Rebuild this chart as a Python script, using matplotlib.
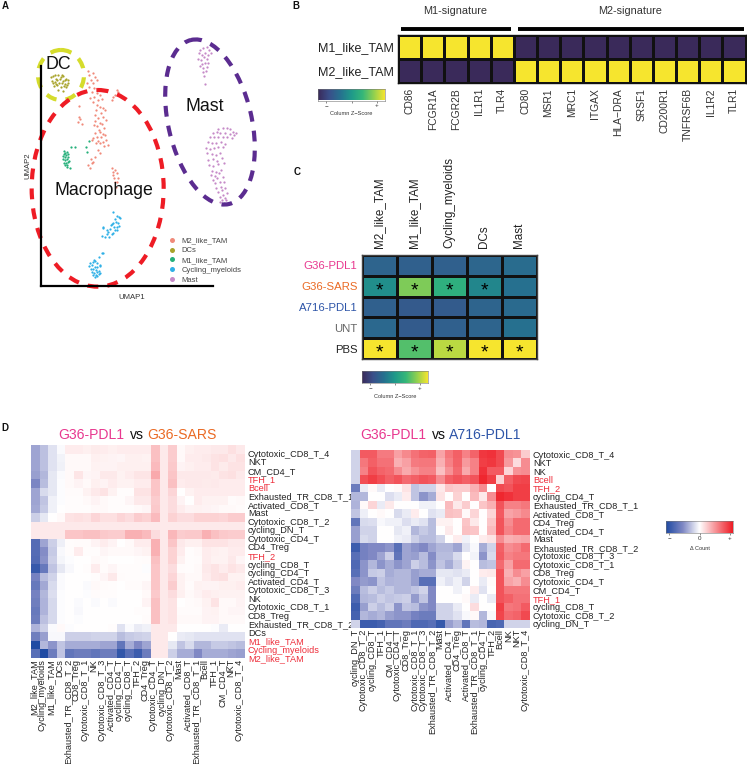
import numpy as np
import matplotlib
matplotlib.use("Agg")
import matplotlib.pyplot as plt
from matplotlib.colors import LinearSegmentedColormap
from matplotlib.lines import Line2D
from matplotlib.patches import Ellipse

plt.rcParams['font.family'] = ['Liberation Sans', 'DejaVu Sans']
W, H = 747, 764
fig = plt.figure(figsize=(W/100, H/100), dpi=100, facecolor='white')

def axpx(x0, y0, x1, y1):
    return fig.add_axes([x0/W, 1-y1/H, (x1-x0)/W, (y1-y0)/H])

def figtext(x, y, s, **k):
    return fig.text(x/W, 1-y/H, s, **k)

# ---------- Panel A data (UMAP, in read-off units) ----------
m2_x = [265,268,280,285,272,262,278,290,268,283,275,290,283,270,300,295,305,278,290,310,288,300,315,285,302,
        295,310,285,300,318,282,292,305,313,296,285,300,310,290,303,316,280,295,308,318,325,300,312,288,276,
        340,350,355,335,345,237,240,235,245,238,295,285,275,270,280,265,300,272,345,340,350,355,345,338,352,342,348,336]
m2_y = [212,225,218,230,240,250,248,240,262,265,275,280,290,295,285,300,298,305,315,325,330,322,330,345,340,
        355,352,362,368,360,375,378,372,385,390,400,395,402,410,412,405,415,422,425,420,435,430,438,428,420,
        290,270,275,300,285,350,358,365,372,318,450,470,490,505,485,495,460,478,510,525,520,535,545,515,545,535,560,505]
dc_x = [152,160,168,175,183,190,198,204,156,165,172,180,188,196,203,158,168,177,185,194,202,162,172,182,192,199,175,190,166,186]
dc_y = [232,228,236,226,232,228,236,240,242,246,240,238,244,240,248,250,252,248,250,252,256,258,256,262,258,262,270,272,224,224]
m1_x = [192,196,200,205,188,194,198,204,190,196,202,208,192,198,204,195,200,210,212,225,258,268,262,193,201]
m1_y = [452,460,456,462,468,470,466,472,478,480,476,484,488,490,486,496,500,504,440,440,440,422,455,462,494]
cy_x = [338,352,358,345,360,348,340,355,335,350,342,358,330,345,325,338,320,335,310,328,322,308,315,350,305,332,
        308,270,278,285,292,300,268,276,284,292,300,272,280,288,296,275,283,291,299,280,288,296,284,292,298,305,283]
cy_y = [635,648,650,658,655,665,668,670,672,680,682,678,688,690,695,698,702,702,680,712,690,685,712,690,708,675,
        760,790,785,782,790,795,798,795,800,802,798,808,806,810,812,816,818,815,820,824,826,822,830,828,772,760,780]
ma_x = [600,610,620,628,598,606,615,625,632,595,603,612,622,605,615,625,600,610,620,608,618,612,615,
        655,670,680,690,700,708,640,650,660,675,690,702,630,642,655,668,682,695,625,635,648,662,675,618,630,642,655,
        670,622,635,648,660,625,638,650,665,628,640,655,672,635,648,662,632,645,658,640,652,668,645,660,648,662,
        672,655,665,675,660,670,680,665,675,660,672,678,668]
ma_y = [150,145,142,150,160,165,158,165,160,178,180,172,178,192,188,190,198,205,200,215,212,228,252,
        388,385,385,388,395,400,398,395,398,400,402,405,410,412,410,412,412,415,425,430,428,425,432,445,448,445,442,
        440,460,462,465,458,480,478,482,475,495,498,492,490,512,515,510,525,528,520,540,535,530,550,545,565,560,
        545,575,570,565,590,585,580,600,595,605,610,600,612]
scatter_series = [("M2_like_TAM", m2_x, m2_y, "#f08a7a"), ("DCs", dc_x, dc_y, "#a8a32a"),
                  ("M1_like_TAM", m1_x, m1_y, "#25b07a"), ("Cycling_myeloids", cy_x, cy_y, "#2fb0e6"),
                  ("Mast", ma_x, ma_y, "#c58ac8")]

axA = axpx(123/3, 198/3, 640/3, 858/3)
axA.set_xlim(123, 640); axA.set_ylim(858, 198)
axA.patch.set_alpha(0)
for n, x, y, c in scatter_series:
    axA.scatter(x, y, s=2.6, color=c, linewidths=0, clip_on=False)
for s in ['top', 'right']:
    axA.spines[s].set_visible(False)
for s in ['left', 'bottom']:
    axA.spines[s].set_linewidth(1.6); axA.spines[s].set_color('black')
axA.set_xticks([]); axA.set_yticks([])
for (cx, cy, w, h, ang, col) in [(183, 225, 138, 150, 0, '#d5dc2c'), (293, 565, 396, 590, 0, '#ee1c25'),
                                 (630, 366, 250, 505, -13, '#5b2c90')]:
    axA.add_patch(Ellipse((cx, cy), w, h, angle=ang, fill=False, ec=col, lw=3.0,
                          ls=(0, (2.6, 2.2)), clip_on=False))
axA.text(175, 193, "DC", fontsize=12.8, ha='center', va='center', color='#111', clip_on=False)
axA.text(313, 571, "Macrophage", fontsize=12.8, ha='center', va='center', color='#111')
axA.text(615, 319, "Mast", fontsize=12.8, ha='center', va='center', color='#111')
figtext(132, 298, "UMAP1", fontsize=5.6, ha='center', va='center', color='#333')
figtext(28, 166, "UMAP2", fontsize=5.6, ha='center', va='center', rotation=90, color='#333')
handles = [Line2D([], [], ls='', marker='o', ms=3.6, color=c, mew=0, label=n) for n, _, _, c in scatter_series]
axA.legend(handles=handles, loc='upper left', bbox_to_anchor=(500, 711), bbox_transform=axA.transData,
           frameon=False, fontsize=5.5, labelspacing=0.335, handletextpad=0.5, borderpad=0, borderaxespad=0,
           handlelength=1.4, labelcolor='#444')

# ---------- viridis-like colours ----------
vir = LinearSegmentedColormap.from_list('vir', ['#3a2a5a', '#3a4f8a', '#26718f', '#1f9a8a', '#35b779', '#90d050', '#f6e52e'])

# ---------- Panel B ----------
b_rows = ["M1_like_TAM", "M2_like_TAM"]
b_genes = ["CD86", "FCGR1A", "FCGR2B", "IL1R1", "TLR4", "CD80", "MSR1", "MRC1", "ITGAX", "HLA\u2212DRA",
           "SRSF1", "CD200R1", "TNFRSF6B", "IL1R2", "TLR1"]
b_m1 = [1, 1, 1, 1, 1, 0, 0, 0, 0, 0, 0, 0, 0, 0, 0]
b_m2 = [0, 0, 0, 0, 0, 1, 1, 1, 1, 1, 1, 1, 1, 1, 1]
axB = axpx(398, 34.5, 745.5, 82.5)
axB.pcolormesh(np.array([b_m1, b_m2]), cmap=vir, vmin=0, vmax=1, edgecolors='#111', linewidth=0.9)
axB.set_ylim(2, 0); axB.set_xlim(0, 15)
axB.set_yticks([0.5, 1.5], b_rows, fontsize=9, color='#222')
axB.set_xticks(np.arange(15)+0.5, b_genes, rotation=90, fontsize=7.4, color='#333')
axB.tick_params(length=0, pad=3)
axB.tick_params(axis='x', pad=4)
for s in axB.spines.values():
    s.set_linewidth(1.0); s.set_color('#111')
for (x0, x1, t) in [(400.7, 510.7, "M1-signature"), (518, 744, "M2-signature")]:
    fig.add_artist(Line2D([x0/W, x1/W], [1-28.5/H]*2, color='black', lw=2.8, solid_capstyle='butt'))
    figtext((x0+x1)/2-1, 10.5, t, fontsize=7.8, ha='center', va='center', color='#333')

def cbar(x0, y0, x1, y1, cmap, labels, title, ticks):
    a = axpx(x0, y0, x1, y1)
    a.imshow(np.linspace(0, 1, 256)[None, :], aspect='auto', cmap=cmap, extent=(0, 1, 0, 1))
    a.set_yticks([])
    a.set_xticks(ticks, labels, fontsize=4.5, color='#333')
    a.tick_params(length=1.2, width=0.4, pad=0.8, color='#333')
    for s in a.spines.values():
        s.set_linewidth(0.4); s.set_color('#777')
    figtext((x0+x1)/2, y1+(13 if labels[1] == '' else 15), title, fontsize=4.1, ha='center', va='center', color='#333')

cbar(318, 88.5, 385, 100.5, vir, ["\u2212", "", "+"], "Column Z\u2212Score", [0.125, 0.5, 0.875])

# ---------- Panel C ----------
c_rows = ["G36-PDL1", "G36-SARS", "A716-PDL1", "UNT", "PBS"]
c_cols = ["M2_like_TAM", "M1_like_TAM", "Cycling_myeloids", "DCs", "Mast"]
c_row_colors = ['#e8388f', '#ea6a24', '#2e55a8', '#666666', '#222222']
c_g36_pdl1 = [.27, .25, .25, .28, .31]
c_g36_sars = [.45, .80, .62, .42, .33]
c_a716 = [.25, .22, .23, .27, .30]
c_unt = [.29, .23, .25, .27, .33]
c_pbs = [1.0, .72, .90, 1.0, 1.0]
c_stars = [(1, 0), (1, 1), (1, 2), (1, 3), (4, 0), (4, 1), (4, 2), (4, 3), (4, 4)]
axC = axpx(361.7, 255, 537, 359)
axC.pcolormesh(np.array([c_g36_pdl1, c_g36_sars, c_a716, c_unt, c_pbs]), cmap=vir, vmin=0, vmax=1,
               edgecolors='#111', linewidth=0.9)
axC.set_ylim(5, 0); axC.set_xlim(0, 5)
axC.set_yticks(np.arange(5)+.5, c_rows, fontsize=8.2)
for l, c in zip(axC.get_yticklabels(), c_row_colors):
    l.set_color(c)
axC.xaxis.tick_top()
axC.set_xticks(np.arange(5)+.5, c_cols, rotation=90, fontsize=8.4, color='#222')
axC.tick_params(length=0, pad=3)
axC.tick_params(axis='x', pad=5)
for s in axC.spines.values():
    s.set_linewidth(1.0); s.set_color('#444')
for r, c in c_stars:
    axC.text(c+.5, r+.72, "*", fontsize=14, ha='center', va='center', color='black')
cbar(362, 371, 428, 383, vir, ["\u2212", "", "+"], "Column Z\u2212Score", [0.125, 0.5, 0.875])

# ---------- Panel D ----------
d_cmap = LinearSegmentedColormap.from_list('d', [(0, '#1f4aa3'), (0.25, '#7f88c4'), (0.5, '#ffffff'), (1, '#ee1c25')])

left_rows = ["Cytotoxic_CD8_T_4", "NKT", "CM_CD4_T", "TFH_1", "Bcell", "Exhausted_TR_CD8_T_1", "Activated_CD8_T",
             "Mast", "Cytotoxic_CD8_T_2", "cycling_DN_T", "Cytotoxic_CD4_T", "CD4_Treg", "TFH_2", "cycling_CD8_T",
             "cycling_CD4_T", "Activated_CD4_T", "Cytotoxic_CD8_T_3", "NK", "Cytotoxic_CD8_T_1", "CD8_Treg",
             "Exhausted_TR_CD8_T_2", "DCs", "M1_like_TAM", "Cycling_myeloids", "M2_like_TAM"]
left_cols = left_rows[::-1]
left_vals = [
 [-38,-26,-12,-2, 8,8,7,9,8,7,8,8,8,8, 28,10,22, 3,7,8,8,10,10,14,10],
 [-38,-26,-12,-5, 3,3,3,7,6,5,4,7,7,6, 28,10,22, 3,8,8,10,12,14,10,14],
 [-38,-26,-12,-6, 3,3,3,6,5,5,7,7,7,7, 30,10,24, 5,7,8,8,12,9,12,12],
 [-40,-30,-10,-2, 3,11,4,5,10,10,6,8,11,11, 38,10,25, 10,10,10,10,9,12,14,10],
 [-52,-28,-10,-1, 3,5,3,7,5,8,6,6,8,8, 25,10,28, 8,10,10,9,10,8,8,8],
 [-38,-15,-10,-1, 2,2,6,10,12,6,1,1,12,12, 25,10,18, 0,6,8,8,8,8,8,8],
 [-38,-25,-6,-1, 1,1,3,5,3,1,1,4,10,10, 22,10,15, 5,0,8,6,6,6,2,3],
 [-36,-22,-6,0, 1,1,1,3,3,1,1,1,3,4, 24,10,15, 8,5,6,5,4,3,3,2],
 [-20,-10,0,3, 12,14,12,18,14,14,18,15,22,20, 30,10,20, 15,15,20,20,20,18,22,22],
 [10,10,10,10, 10,10,10,10,10,10,10,10,10,10, 10,10,10, 10,10,10,10,10,10,10,10],
 [10,10,10,10, 25,25,28,28,24,22,22,35,35,30, 15,10,32, 22,24,24,35,28,24,22,22],
 [-72,-38,-20,-7, 1,2,2,5,8,5,0,3,8,8, 35,10,25, 10,7,7,12,12,12,10,10],
 [-72,-48,-22,-3, 1,8,1,1,4,3,3,3,4,6, 35,10,20, 8,1,3,8,7,6,8,8],
 [-74,-46,-20,-4, -1,0,0,3,2,0,0,0,1,2, 28,10,20, 6,1,2,8,6,6,10,4],
 [-88,-62,-25,-10, -3,0,1,8,2,4,1,1,1,-1, 25,10,15, 2,1,3,10,12,8,12,10],
 [-55,-28,-18,-2, 0,0,0,1,4,10,2,1,1,1, 25,10,18, 6,3,3,8,12,14,6,6],
 [-62,-36,-15,-2, 0,0,-2,3,2,1,0,2,2,4, 25,10,22, 6,2,6,5,5,7,7,8],
 [-55,-30,-14,-1, 0,0,-1,2,1,1,0,0,0,3, 24,10,15, 7,3,5,8,7,6,6,6],
 [-58,-32,-16,-1, 0,-2,0,-2,0,-2,0,0,0,5, 28,10,12, 0,2,3,6,12,3,3,5],
 [-62,-32,-16,-1, 0,-3,0,0,0,0,0,0,1,1, 28,10,12, 2,2,2,5,6,3,4,4],
 [-60,-26,-16,-1, 0,-1,0,0,0,0,0,0,0,2, 28,10,12, 3,3,3,5,5,3,3,3],
 [-32,-20,-2,3, -1,0,0,0,0,1,-12,-2,-8,-6, 10,10,10, 0,0,0,0,-1,-8,0,0],
 [-58,-40,-3,-3, -20,-20,-20,-18,-18,-18,-28,-22,-20,-18, 10,10,0, -8,-10,-12,-12,-12,-12,-12,-12],
 [-100,-30,-45,-25, -35,-35,-35,-35,-38,-38,-65,-35,-50,-38, 10,10,-10, -25,-15,-30,-30,-22,-22,-25,-28],
 [-70,-100,-60,-25, -65,-60,-60,-65,-60,-60,-90,-70,-85,-60, 10,10,-20, -35,-35,-50,-35,-35,-35,-38,-40],
]
right_rows = ["Cytotoxic_CD8_T_4", "NKT", "NK", "Bcell", "TFH_2", "cycling_CD4_T", "Exhausted_TR_CD8_T_1",
              "Activated_CD8_T", "CD4_Treg", "Activated_CD4_T", "Mast", "Exhausted_TR_CD8_T_2", "Cytotoxic_CD8_T_3",
              "Cytotoxic_CD8_T_1", "CD8_Treg", "Cytotoxic_CD4_T", "CM_CD4_T", "TFH_1", "cycling_CD8_T",
              "Cytotoxic_CD8_T_2", "cycling_DN_T"]
right_cols = right_rows[::-1]
right_vals = [
 [-18, 72,72,58,58,42,52,62,68,70, 40,60,70,55,68,88,90,80,50,48,22],
 [-18, 60,70,62,62,35,42,58,60,60, 35,55,68,45,55,85,88,80,45,15,50],
 [-18, 55,75,68,65,50,38,48,55,55, 28,48,65,38,55,90,72,72,18,48,50],
 [-18, 78,85,78,70,75,65,70,75,72, 50,70,75,70,75,95,85,20,70,80,82],
 [-60, -8,3,-8,0,3,12,-25,-18,-18, 10,25,22,22,35,50,0,80,75,85,85],
 [-30, -30,0,0,-14,-8,8,-25,-45,-35, 12,0,20,0,30,10,50,95,90,85,85],
 [-32, 3,18,-8,10,0,0,0,-6,-6, 0,30,10,22,0,25,35,75,55,55,60],
 [-25, -7,0,3,0,-15,-8,8,0,-12, -8,28,25,3,18,0,18,72,40,45,52],
 [-65, -15,-14,-3,-6,-6,-14,-8,-12,-28, 6,6,0,25,10,0,25,75,50,65,65],
 [-40, -18,-18,0,0,-10,-6,-30,-22,-28, 0,10,0,28,25,0,30,75,55,65,65],
 [-40, -15,-18,0,0,-6,-8,-20,-28,-28, -18,0,8,-6,0,8,12,50,35,38,40],
 [-85, -55,-50,-50,-45,-70,-38,-45,-50,-38, -30,-30,-38,-12,-3,-35,-18,70,50,55,65],
 [-70, -55,-50,-38,-20,-65,-38,-40,-28,-48, -28,-28,-15,0,-5,-45,-15,72,55,60,60],
 [-75, -45,-30,-45,-35,-45,-38,-20,-28,-45, -25,-35,-20,5,0,-28,-25,65,42,65,65],
 [-70, -45,-22,-20,-35,-30,-30,-40,-35,-35, -10,-10,-12,-8,0,8,10,75,35,50,42],
 [-50, -42,-45,-25,-32,-30,-30,-40,-70,-70, -6,-12,-6,-18,0,-8,2,75,40,35,50],
 [-60, -28,-20,-28,-22,-30,-30,-25,-18,-50, 0,0,-6,0,8,-12,0,75,60,60,60],
 [-75, -30,-28,-20,-25,-22,-20,-42,-25,-50, 0,0,0,3,-8,0,-8,75,70,62,62],
 [-85, -40,-20,-28,-20,-45,-25,-28,-45,-50, -18,-18,-8,0,15,0,0,85,60,62,72],
 [-80, -30,-35,-30,-40,-45,-45,-55,-60,-60, -18,-18,-12,-3,3,-30,-3,82,65,68,80],
 [-18, -85,-85,-80,-65,-65,-60,-75,-75,-70, -88,-40,-30,-65,-28,-30,-78,-75,-18,-18,-18],
]
red_left = {"TFH_1", "Bcell", "TFH_2", "M1_like_TAM", "Cycling_myeloids", "M2_like_TAM"}
red_right = {"Bcell", "TFH_2", "TFH_1"}

def heat(box, vals, rows, cols, red, dy, dx):
    a = axpx(*box)
    m = np.array(vals, float)
    a.pcolormesh(m, cmap=d_cmap, vmin=-100, vmax=100, linewidth=0)
    a.set_ylim(m.shape[0], 0); a.set_xlim(0, m.shape[1])
    a.yaxis.tick_right()
    a.set_yticks(np.arange(len(rows))+.5+dy, rows, fontsize=6.6)
    a.set_xticks(np.arange(len(cols))+.5+dx, cols, rotation=90, fontsize=6.6, color='#222222')
    a.tick_params(length=0, pad=2)
    a.tick_params(axis='x', pad=0.6)
    for l in a.get_yticklabels():
        l.set_color('#ee2d3a' if l.get_text() in red else '#222222')
    for s in a.spines.values():
        s.set_visible(False)
    return a

heat((31.3, 445, 245, 658), left_vals, left_rows, left_cols, red_left, 0.47, -0.22)
heat((351, 450, 530, 628), right_vals, right_rows, right_cols, red_right, 0.0, -0.05)

def title(y, parts):
    for t, c, xx in parts:
        figtext(xx, y, t, fontsize=10.1, color=c, ha='left', va='center')

title(435, [("G36-PDL1", '#e8388f', 58), ("vs", '#111111', 129.5), ("G36-SARS", '#ea6a24', 147)])
title(435, [("G36-PDL1", '#e8388f', 360.5), ("vs", '#111111', 431.5), ("A716-PDL1", '#2e55a8', 449)])
cbar(666, 521, 733, 533, d_cmap, ["\u2212", "0", "+"], "\u0394 Count", [0.05, 0.5, 0.95])

for t, x, y in [("A", 5, 6), ("B", 296, 6), ("C", 297, 172), ("D", 5, 428)]:
    figtext(x, y, t, fontsize=7, fontweight='bold', ha='center', va='center', color='#111')

fig.savefig("out.png", dpi=100)
